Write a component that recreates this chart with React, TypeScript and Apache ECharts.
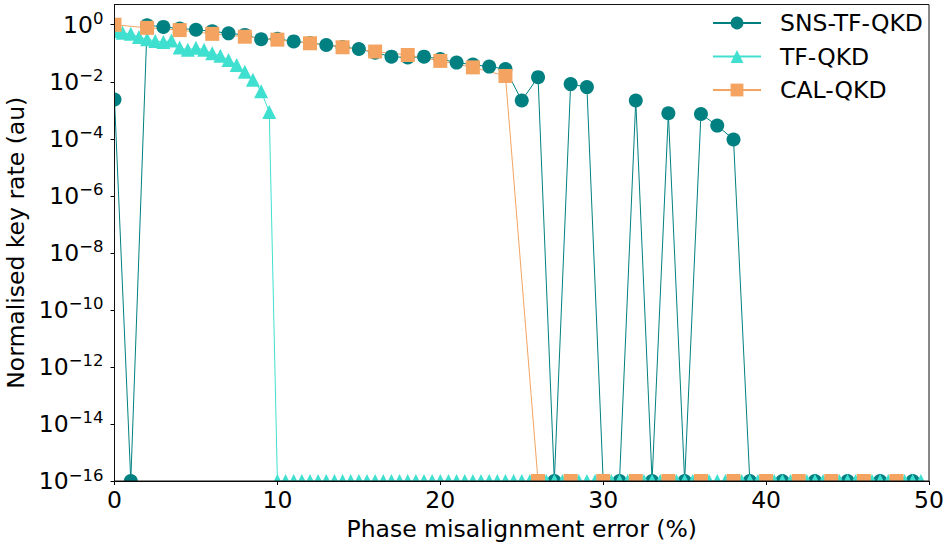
import React, { useEffect, useRef } from 'react';
import * as echarts from 'echarts';

// Floor value used by the plot for zero key rate
const F = 1e-16;

const snsPhase = [
  0, 1, 2, 3, 4, 5, 6, 7, 8, 9,
  10, 11, 12, 13, 14, 15, 16, 17, 18, 19,
  20, 21, 22, 23, 24, 25, 26, 27, 28, 29,
  30, 31, 32, 33, 34, 35, 36, 37, 38, 39,
  40, 41, 42, 43, 44, 45, 46, 47, 48, 49,
];
const snsRate = [
  2.4e-3, F, 0.96, 0.84, 0.74, 0.67, 0.59, 0.5, 0.44, 0.31,
  0.32, 0.26, 0.23, 0.195, 0.166, 0.141, 0.105, 0.076, 0.071, 0.076,
  0.063, 0.047, 0.04, 0.034, 0.028, 2.2e-3, 1.45e-2, F, 8.3e-3, 6.5e-3,
  F, F, 2.2e-3, F, 7.9e-4, F, 7.4e-4, 2.9e-4, 9.5e-5, F,
  F, F, F, F, F, F, F, F, F, F,
];

const tfPhase = [
  0, 0.5, 1, 1.5, 2, 2.5, 3, 3.5, 4, 4.5,
  5, 5.5, 6, 6.5, 7, 7.5, 8, 8.5, 9, 9.5,
  10, 10.5, 11, 11.5, 12, 12.5, 13, 13.5, 14, 14.5,
  15, 15.5, 16, 16.5, 17, 17.5, 18, 18.5, 19, 19.5,
  20, 20.5, 21, 21.5, 22, 22.5, 23, 23.5, 24, 24.5,
  25, 25.5, 26, 26.5, 27, 27.5, 28, 28.5, 29, 29.5,
  30, 30.5, 31, 31.5, 32, 32.5, 33, 33.5, 34, 34.5,
  35, 35.5, 36, 36.5, 37, 37.5, 38, 38.5, 39, 39.5,
  40, 40.5, 41, 41.5, 42, 42.5, 43, 43.5, 44, 44.5,
  45, 45.5, 46, 46.5, 47, 47.5, 48, 48.5, 49, 49.5,
];
const tfRate = [
  0.6, 0.52, 0.48, 0.37, 0.31, 0.27, 0.25, 0.28, 0.158, 0.132,
  0.155, 0.132, 0.1, 0.081, 0.058, 0.039, 0.0224, 0.0117, 4.7e-3, 8.7e-4,
  F, F, F, F, F, F, F, F, F, F,
  F, F, F, F, F, F, F, F, F, F,
  F, F, F, F, F, F, F, F, F, F,
  F, F, F, F, F, F, F, F, F, F,
  F, F, F, F, F, F, F, F, F, F,
  F, F, F, F, F, F, F, F, F, F,
  F, F, F, F, F, F, F, F, F, F,
  F, F, F, F, F, F, F, F, F, F,
];

const calPhase = [
  0, 2, 4, 6, 8, 10, 12, 14, 16, 18, 20, 22, 24,
  26, 28, 30, 32, 34, 36, 38, 40, 42, 44, 46, 48,
];
const calRate = [
  1.0, 0.78, 0.65, 0.48, 0.38, 0.3, 0.224, 0.162, 0.115, 0.087, 0.054, 0.032, 0.016,
  F, F, F, F, F, F, F, F, F, F, F, F,
];

const seriesNames = ['SNS-TF-QKD', 'TF-QKD', 'CAL-QKD'];
const yTickExponents = [-16, -14, -12, -10, -8, -6, -4, -2, 0];
const xTickValues = [0, 10, 20, 30, 40, 50];

const FONT = 'DejaVu Sans';
const FS = 23.5;
const W = 945;
const H = 547;
const GL = 114.5;
const GT = 4.5;
const GR = 929;
const GB = 481;

const toLog = (phase: number[], rate: number[]) =>
  phase.map((p, i) => [p, Math.log10(rate[i])]);

export default function App() {
  const ref = useRef<HTMLDivElement>(null);

  useEffect(() => {
    if (!ref.current) return;
    const chart = echarts.init(ref.current, undefined, { renderer: 'svg' });

    const supFmt = (v: number) => {
      if (!Number.isInteger(v)) return '';
      const e = v < 0 ? '\u2212' + String(-v) : String(v);
      return `{b|10}{s|${e}}`;
    };

    const option: any = {
      animation: false,
      textStyle: { fontFamily: FONT },
      grid: {
        left: GL,
        top: GT,
        right: W - GR,
        bottom: H - GB,
        containLabel: false,
        outerBoundsMode: 'none',
      },
      xAxis: {
        type: 'value',
        min: 0,
        max: 50,
        interval: 10,
        z: 60,
        name: 'Phase misalignment error (%)',
        nameLocation: 'middle',
        nameGap: 33,
        nameTextStyle: { fontSize: FS, color: '#000', fontFamily: FONT },
        axisLine: { onZero: false, lineStyle: { color: '#000', width: 1 } },
        axisTick: { length: 4, customValues: xTickValues, lineStyle: { color: '#000', width: 1 } },
        axisLabel: { fontSize: FS, color: '#000', margin: 7, fontFamily: FONT, customValues: xTickValues },
        splitLine: { show: false },
      },
      yAxis: {
        type: 'value',
        min: -16,
        max: 0.71,
        interval: 2,
        z: 60,
        name: 'Normalised key rate (au)',
        nameLocation: 'middle',
        nameGap: 76,
        nameTextStyle: { fontSize: FS, color: '#000', fontFamily: FONT },
        axisLine: { onZero: false, lineStyle: { color: '#000', width: 1 } },
        axisTick: { length: 4, customValues: yTickExponents, lineStyle: { color: '#000', width: 1 } },
        axisLabel: {
          margin: 11,
          customValues: yTickExponents,
          formatter: supFmt,
          rich: {
            b: { fontSize: FS, fontFamily: FONT, color: '#000', lineHeight: 29 },
            s: { fontSize: 16.5, fontFamily: FONT, color: '#000', lineHeight: 15, verticalAlign: 'top' },
          },
        },
        splitLine: { show: false },
      },
      legend: {
        orient: 'vertical',
        left: 712,
        top: 11,
        padding: 0,
        itemWidth: 48,
        itemHeight: 16,
        itemGap: 9.5,
        data: seriesNames,
        textStyle: {
          fontSize: FS,
          color: '#000',
          fontFamily: FONT,
          lineHeight: 22,
          padding: [0, 0, 0, 14],
        },
      },
      graphic: {
        elements: [
          { type: 'rect', z: 50, silent: true, shape: { x: 0, y: GB + 0.5, width: W, height: H - GB }, style: { fill: '#fff' } },
          { type: 'rect', z: 50, silent: true, shape: { x: 0, y: 0, width: GL - 0.5, height: H }, style: { fill: '#fff' } },
          { type: 'rect', z: 50, silent: true, shape: { x: GR + 0.5, y: 0, width: W - GR, height: H }, style: { fill: '#fff' } },
          { type: 'rect', z: 61, silent: true, shape: { x: GL, y: GT, width: GR - GL, height: GB - GT }, style: { fill: 'none', stroke: '#111', lineWidth: 1 } },
        ],
      },
      series: [
        {
          type: 'line',
          name: seriesNames[0],
          data: toLog(snsPhase, snsRate),
          symbol: 'circle',
          symbolSize: 14,
          clip: false,
          itemStyle: { color: '#008080' },
          lineStyle: { color: '#008080', width: 1 },
        },
        {
          type: 'line',
          name: seriesNames[1],
          data: toLog(tfPhase, tfRate),
          symbol: 'triangle',
          symbolSize: 14,
          clip: false,
          itemStyle: { color: '#40E0D0' },
          lineStyle: { color: '#40E0D0', width: 1 },
        },
        {
          type: 'line',
          name: seriesNames[2],
          data: toLog(calPhase, calRate),
          symbol: 'rect',
          symbolSize: 14,
          clip: false,
          itemStyle: { color: '#F4A460' },
          lineStyle: { color: '#F4A460', width: 1 },
        },
      ],
    };

    chart.setOption(option);
    return () => chart.dispose();
  }, []);

  return (
    <div
      ref={ref}
      style={{ position: 'absolute', left: 0, top: 0, width: W, height: H, background: '#fff' }}
    />
  );
}
